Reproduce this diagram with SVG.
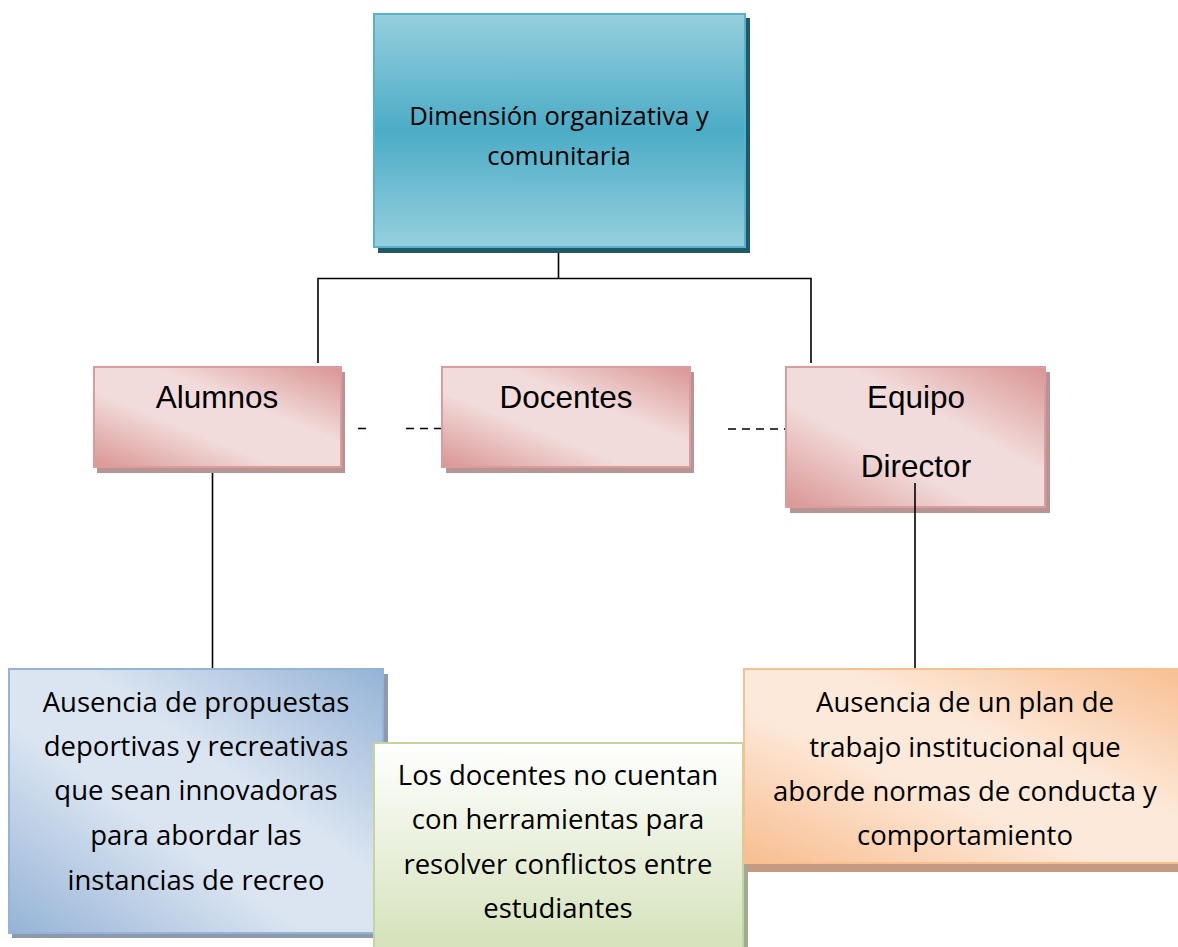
<svg xmlns="http://www.w3.org/2000/svg" width="1178" height="947" viewBox="0 0 1178 947">
<style>
  .t { font-family: "Open Sans", "Noto Sans", sans-serif; fill: #000; text-anchor: middle; }
  .big { font-size: 27.5px; }
  .top { font-size: 25.6px; }
  .p { font-family: "Liberation Sans", Arial, sans-serif; font-size: 31.5px; fill: #000; text-anchor: middle; }
  .conn { stroke: #000; stroke-width: 1.6; fill: none; }
</style>
<defs>
  <linearGradient id="gTop" x1="0" y1="0" x2="0" y2="1">
    <stop offset="0" stop-color="#96CFDE"/>
    <stop offset="0.5" stop-color="#4BACC6"/>
    <stop offset="1" stop-color="#96CFDE"/>
  </linearGradient>
  <linearGradient id="gPink" x1="1" y1="0" x2="0" y2="1">
    <stop offset="0" stop-color="#D99594"/>
    <stop offset="0.38" stop-color="#F2DCDB"/>
    <stop offset="0.62" stop-color="#F2DCDB"/>
    <stop offset="1" stop-color="#D99594"/>
  </linearGradient>
  <linearGradient id="gBlue" x1="1" y1="0" x2="0" y2="1">
    <stop offset="0" stop-color="#95B3D7"/>
    <stop offset="0.4" stop-color="#DBE5F1"/>
    <stop offset="0.6" stop-color="#DBE5F1"/>
    <stop offset="1" stop-color="#95B3D7"/>
  </linearGradient>
  <linearGradient id="gGreen" x1="0" y1="0" x2="0" y2="1">
    <stop offset="0" stop-color="#FFFFFF"/>
    <stop offset="1" stop-color="#D2E0B6"/>
  </linearGradient>
  <linearGradient id="gOrange" x1="1" y1="0" x2="0" y2="1">
    <stop offset="0" stop-color="#F8BD8F"/>
    <stop offset="0.4" stop-color="#FDE9D9"/>
    <stop offset="0.6" stop-color="#FDE9D9"/>
    <stop offset="1" stop-color="#F8BD8F"/>
  </linearGradient>
</defs>

<rect width="1178" height="947" fill="#FFFFFF"/>

<g id="connectors">
  <path class="conn" d="M558.5 247 V278.5 M318 363 V278.5 H811 V363"/>
  <line class="conn" x1="212.5" y1="467" x2="212.5" y2="669"/>
  <line x1="358" y1="428.5" x2="442" y2="428.5" stroke="#000" stroke-width="1.6" stroke-dasharray="8 40 8 6 8 6 8"/>
  <line x1="728" y1="429" x2="786" y2="429" stroke="#000" stroke-width="1.6" stroke-dasharray="8 6"/>
</g>

<g id="node-dimension">
  <rect x="378" y="18" width="372" height="235" fill="#22596A"/>
  <rect x="374" y="14" width="371" height="233" fill="url(#gTop)" stroke="#57B2CB" stroke-width="2"/>
  <text class="t top" x="559" y="125">Dimensión organizativa y</text>
  <text class="t top" x="559" y="165">comunitaria</text>
</g>

<g id="node-alumnos">
  <rect x="97" y="372" width="248" height="101" fill="#B89595"/>
  <rect x="94" y="367" width="247" height="100" fill="url(#gPink)" stroke="#DC9C9B" stroke-width="2"/>
  <text class="p" x="217" y="408">Alumnos</text>
</g>

<g id="node-docentes">
  <rect x="446" y="372" width="248" height="101" fill="#B89595"/>
  <rect x="442" y="367" width="248" height="100" fill="url(#gPink)" stroke="#DC9C9B" stroke-width="2"/>
  <text class="p" x="566" y="408">Docentes</text>
</g>

<g id="node-equipo">
  <rect x="790" y="372" width="260" height="141" fill="#B89595"/>
  <rect x="786" y="367" width="259" height="140" fill="url(#gPink)" stroke="#DC9C9B" stroke-width="2"/>
  <text class="p" x="916" y="408">Equipo</text>
  <text class="p" x="916" y="477">Director</text>
</g>

<line class="conn" x1="915" y1="483" x2="915" y2="669"/>

<g id="node-alumnos-problema">
  <rect x="12" y="674" width="376" height="264" fill="#8D9AAB"/>
  <rect x="9" y="669" width="374" height="264" fill="url(#gBlue)" stroke="#95B3D7" stroke-width="2"/>
  <text class="t big" x="196" y="712">Ausencia de propuestas</text>
  <text class="t big" x="196" y="756">deportivas y recreativas</text>
  <text class="t big" x="196" y="800">que sean innovadoras</text>
  <text class="t big" x="196" y="845">para abordar las</text>
  <text class="t big" x="196" y="890">instancias de recreo</text>
</g>

<g id="node-docentes-problema">
  <rect x="377" y="748" width="371" height="220" fill="#A3AA98"/>
  <rect x="374" y="743" width="369" height="220" fill="url(#gGreen)" stroke="#C3D69B" stroke-width="2"/>
  <text class="t big" x="558" y="785">Los docentes no cuentan</text>
  <text class="t big" x="558" y="829">con herramientas para</text>
  <text class="t big" x="558" y="874">resolver conflictos entre</text>
  <text class="t big" x="558" y="918">estudiantes</text>
</g>

<g id="node-equipo-problema">
  <rect x="747" y="674" width="450" height="198" fill="#C29B82"/>
  <rect x="744" y="669" width="450" height="194" fill="url(#gOrange)" stroke="#F9C08F" stroke-width="2"/>
  <text class="t big" x="965" y="712">Ausencia de un plan de</text>
  <text class="t big" x="965" y="757">trabajo institucional que</text>
  <text class="t big" x="965" y="801">aborde normas de conducta y</text>
  <text class="t big" x="965" y="845">comportamiento</text>
</g>
</svg>
